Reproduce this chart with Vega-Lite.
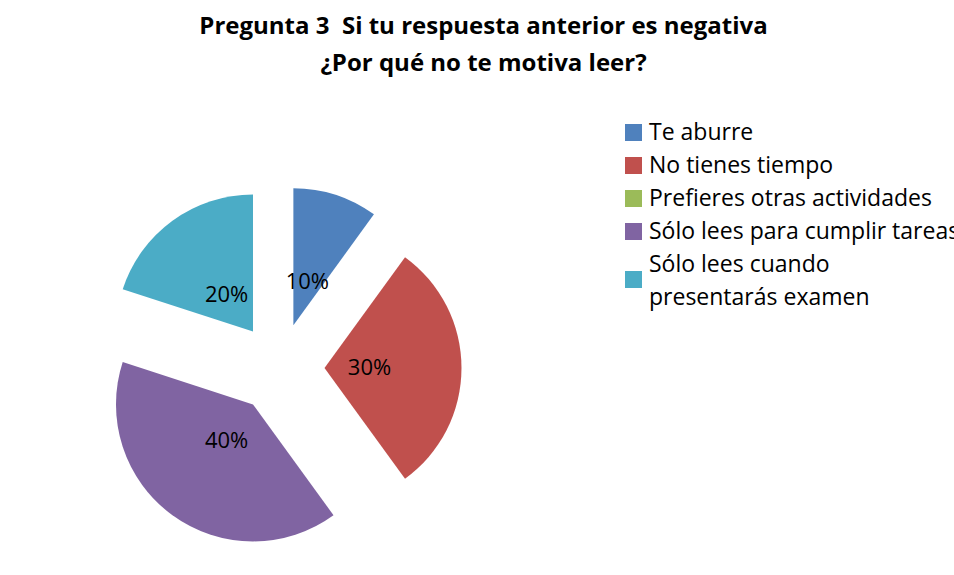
{
  "$schema": "https://vega.github.io/schema/vega-lite/v6.json",
  "width": 543,
  "height": 414,
  "autosize": {"type": "none"},
  "padding": {"left": 8, "top": 161, "right": 403, "bottom": 0},
  "background": "white",
  "config": {"view": {"stroke": null}, "style": {"guide-label": {"lineHeight": 33}}},
  "title": {
    "text": ["Pregunta 3\u00a0 Si tu respuesta anterior es negativa", "¿Por qué no te motiva leer?"],
    "font": "Open Sans",
    "fontSize": 24,
    "fontWeight": "bold",
    "color": "#000000",
    "anchor": "middle",
    "frame": "group",
    "dx": 204,
    "offset": 45,
    "lineHeight": 37,
    "limit": 2000
  },
  "data": {
    "values": [
      {"respuesta": "Te aburre", "porcentaje": 0.1, "orden": 1},
      {"respuesta": "No tienes tiempo", "porcentaje": 0.3, "orden": 2},
      {"respuesta": "Prefieres otras actividades", "porcentaje": 0.0, "orden": 3},
      {"respuesta": "Sólo lees para cumplir tareas", "porcentaje": 0.4, "orden": 4},
      {"respuesta": "Sólo lees cuando presentarás examen", "porcentaje": 0.2, "orden": 5}
    ]
  },
  "encoding": {
    "theta": {"field": "porcentaje", "type": "quantitative", "stack": true},
    "order": {"field": "orden", "type": "quantitative"},
    "color": {
      "field": "respuesta",
      "type": "nominal",
      "scale": {
        "domain": ["Te aburre", "No tienes tiempo", "Prefieres otras actividades", "Sólo lees para cumplir tareas", "Sólo lees cuando presentarás examen"],
        "range": ["#4F81BD", "#C0504D", "#9BBB59", "#8064A2", "#4BACC6"]
      },
      "legend": {
        "orient": "none",
        "legendX": 614,
        "legendY": -40,
        "title": null,
        "symbolType": "square",
        "symbolSize": 289,
        "symbolStrokeWidth": 0,
        "symbolOpacity": 1,
        "labelFont": "Open Sans",
        "labelFontSize": 23,
        "labelColor": "#000000",
        "labelOffset": 4,
        "rowPadding": 9,
        "labelLimit": 500,
        "labelExpr": "datum.label == 'Sólo lees cuando presentarás examen' ? ['Sólo lees cuando', 'presentarás examen'] : datum.label",
        "encode": {
          "labels": {
            "update": {
              "dy": {"signal": "datum.value === 'Sólo lees cuando presentarás examen' ? -15 : 0"}
            }
          }
        }
      }
    }
  },
  "layer": [
    {
      "mark": {"type": "arc", "outerRadius": 137, "xOffset": 13.9, "yOffset": -42.8},
      "encoding": {"opacity": {"condition": {"test": "datum.respuesta === 'Te aburre'", "value": 1}, "value": 0}}
    },
    {
      "mark": {"type": "arc", "outerRadius": 137, "xOffset": 45, "yOffset": 0},
      "encoding": {"opacity": {"condition": {"test": "datum.respuesta === 'No tienes tiempo'", "value": 1}, "value": 0}}
    },
    {
      "mark": {"type": "arc", "outerRadius": 137, "xOffset": -26.5, "yOffset": 36.4},
      "encoding": {"opacity": {"condition": {"test": "datum.respuesta === 'Sólo lees para cumplir tareas'", "value": 1}, "value": 0}}
    },
    {
      "mark": {"type": "arc", "outerRadius": 137, "xOffset": -26.5, "yOffset": -36.4},
      "encoding": {"opacity": {"condition": {"test": "datum.respuesta === 'Sólo lees cuando presentarás examen'", "value": 1}, "value": 0}}
    },
    {
      "mark": {"type": "text", "radius": 45, "xOffset": 13.9, "yOffset": -42.8, "font": "Open Sans", "fontSize": 22},
      "encoding": {
        "color": {"value": "#000000"},
        "text": {"condition": {"test": "datum.respuesta === 'Te aburre'", "field": "porcentaje", "type": "quantitative", "format": ".0%"}, "value": ""}
      }
    },
    {
      "mark": {"type": "text", "radius": 45, "xOffset": 45, "yOffset": 0, "font": "Open Sans", "fontSize": 22},
      "encoding": {
        "color": {"value": "#000000"},
        "text": {"condition": {"test": "datum.respuesta === 'No tienes tiempo'", "field": "porcentaje", "type": "quantitative", "format": ".0%"}, "value": ""}
      }
    },
    {
      "mark": {"type": "text", "radius": 45, "xOffset": -26.5, "yOffset": 36.4, "font": "Open Sans", "fontSize": 22},
      "encoding": {
        "color": {"value": "#000000"},
        "text": {"condition": {"test": "datum.respuesta === 'Sólo lees para cumplir tareas'", "field": "porcentaje", "type": "quantitative", "format": ".0%"}, "value": ""}
      }
    },
    {
      "mark": {"type": "text", "radius": 45, "xOffset": -26.5, "yOffset": -36.4, "font": "Open Sans", "fontSize": 22},
      "encoding": {
        "color": {"value": "#000000"},
        "text": {"condition": {"test": "datum.respuesta === 'Sólo lees cuando presentarás examen'", "field": "porcentaje", "type": "quantitative", "format": ".0%"}, "value": ""}
      }
    }
  ]
}
